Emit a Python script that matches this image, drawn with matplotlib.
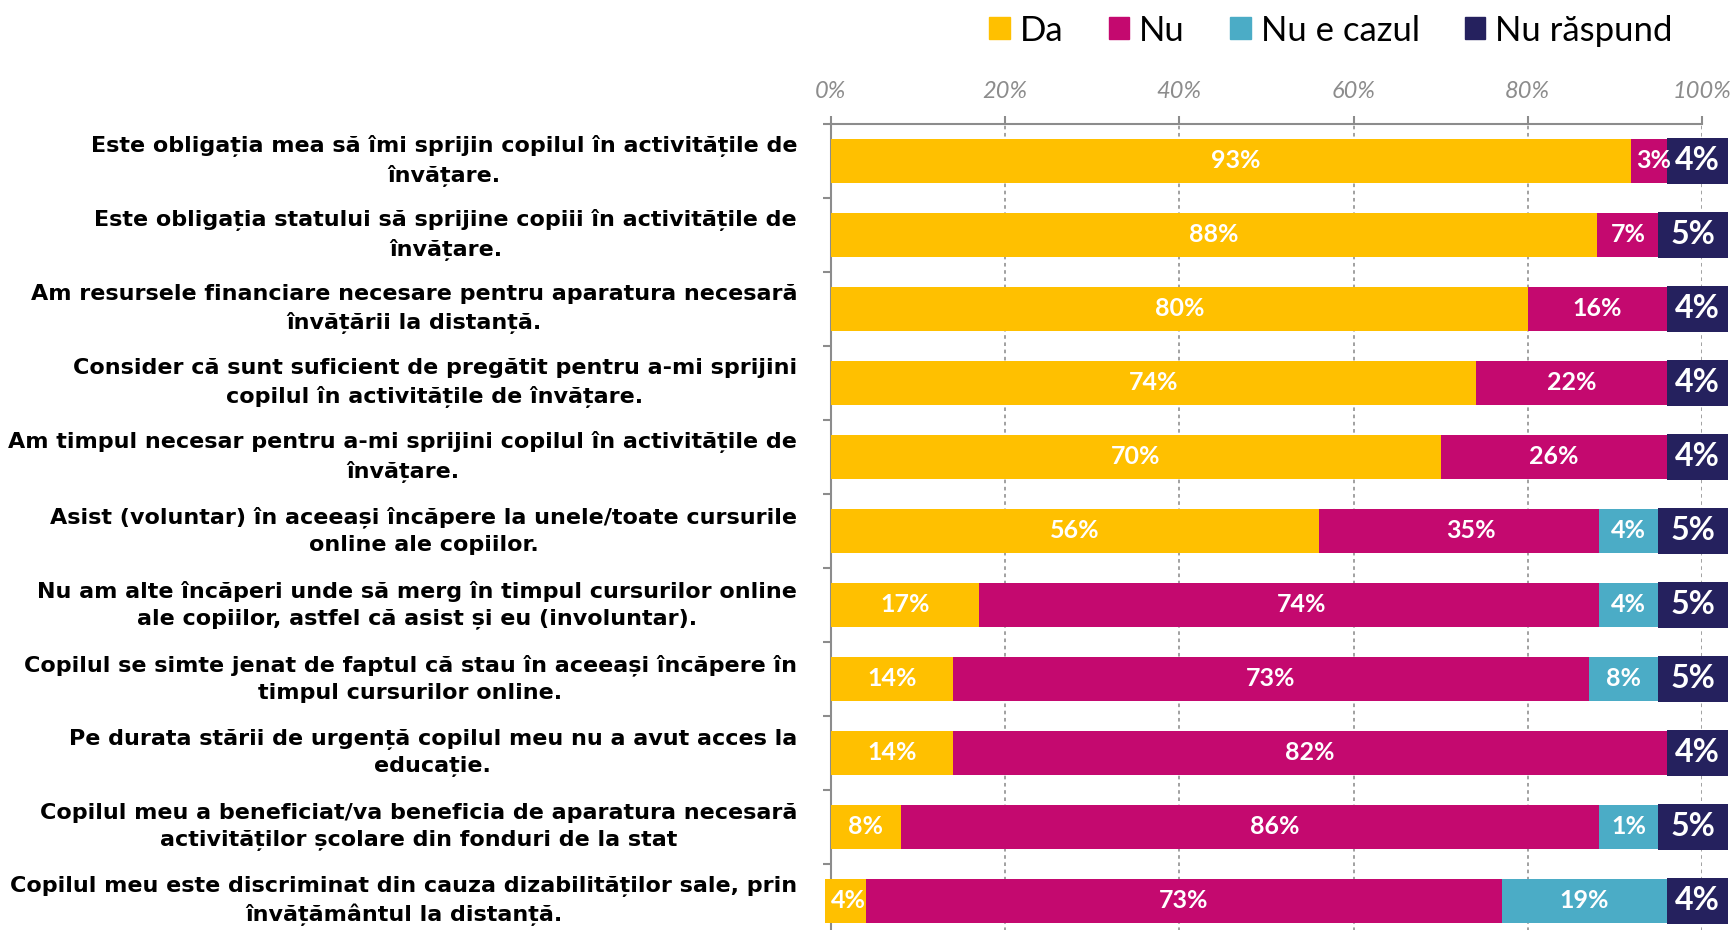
import matplotlib.pyplot as plt
import matplotlib.transforms as mtransforms
from matplotlib.patches import Patch
import numpy as np

plt.rcParams['font.family'] = ['Lato', 'Noto Sans', 'DejaVu Sans']

# survey answers (%), one value per statement
statements = [
    "Este obligația mea să îmi sprijin copilul în activitățile de\nînvățare.",
    "Este obligația statului să sprijine copiii în activitățile de\nînvățare.",
    "Am resursele financiare necesare pentru aparatura necesară\nînvățării la distanță.",
    "Consider că sunt suficient de pregătit pentru a-mi sprijini\ncopilul în activitățile de învățare.",
    "Am timpul necesar pentru a-mi sprijini copilul în activitățile de\nînvățare.",
    "Asist (voluntar) în aceeași încăpere la unele/toate cursurile\nonline ale copiilor.",
    "Nu am alte încăperi unde să merg în timpul cursurilor online\nale copiilor, astfel că asist și eu (involuntar).",
    "Copilul se simte jenat de faptul că stau în aceeași încăpere în\ntimpul cursurilor online.",
    "Pe durata stării de urgență copilul meu nu a avut acces la\neducație.",
    "Copilul meu a beneficiat/va beneficia de aparatura necesară\nactivităților școlare din fonduri de la stat",
    "Copilul meu este discriminat din cauza dizabilităților sale, prin\nînvățământul la distanță.",
]
da = [93, 88, 80, 74, 70, 56, 17, 14, 14, 8, 4]
nu = [3, 7, 16, 22, 26, 35, 74, 73, 82, 86, 73]
nu_caz = [0, 0, 0, 0, 0, 4, 4, 8, 0, 1, 19]
nu_rasp = [4, 5, 4, 4, 4, 5, 5, 5, 4, 5, 4]
series_names = ["Da", "Nu", "Nu e cazul", "Nu răspund"]

colors = ["#FFC000", "#C4096F", "#4BACC6", "#25215E"]
MIN_W = 5.4      # small segments are widened so the label fits
CAZ_MIN_W = 6.8
NR_EXTRA = 3.0   # the "Nu răspund" boxes stick out past 100%

da = np.array(da, float)
nu = np.array(nu, float)
nu_caz = np.array(nu_caz, float)
nu_rasp = np.array(nu_rasp, float)
y = np.arange(len(statements))

fig = plt.figure(figsize=(17.33, 9.3), dpi=100)
ax = fig.add_axes([0.4795, -0.0086, 0.5026, 0.8753])

h = 0.587
def seg(left, width, minw, color, vals, size, hh=h):
    w = np.maximum(width, minw)
    l = left + (width - w) / 2
    ax.barh(y, w / 100, left=l / 100, height=hh, color=color, clip_on=False, zorder=3)
    for yi, li, wi, v in zip(y, l, w, vals):
        if v > 0:
            ax.text((li + wi / 2) / 100, yi, f"{v:.0f}%", ha='center', va='center',
                    color='white', fontsize=size, fontweight='bold', zorder=5, clip_on=False)

seg(np.zeros_like(da), da, MIN_W, colors[0], da, 18)
seg(da, nu, MIN_W, colors[1], nu, 18)
# Nu e cazul: anchored to its right end
end_caz = da + nu + nu_caz
w_caz = np.where(nu_caz > 0, np.maximum(nu_caz, CAZ_MIN_W), 0)
m = nu_caz > 0
ax.barh(y[m], w_caz[m] / 100, left=(end_caz[m] - w_caz[m]) / 100, height=h,
        color=colors[2], zorder=3)
for yi, e, w, v in zip(y[m], end_caz[m], w_caz[m], nu_caz[m]):
    ax.text((e - w / 2) / 100, yi, f"{v:.0f}%", ha='center', va='center',
            color='white', fontsize=18, fontweight='bold', zorder=5)
# Nu raspund
start_nr = 100 - nu_rasp
w_nr = nu_rasp + NR_EXTRA
ax.barh(y, w_nr / 100, left=start_nr / 100, height=0.62, color=colors[3], clip_on=False, zorder=4)
for yi, s, w, v in zip(y, start_nr, w_nr, nu_rasp):
    ax.text((s + w / 2) / 100, yi, f"{v:.0f}%", ha='center', va='center',
            color='white', fontsize=23, fontweight='bold', zorder=5, clip_on=False)

ax.set_xlim(0, 1)
ax.set_ylim(len(statements) - 0.5, -0.5)

# axes look
gray = "#8C8C8C"
for s in ['right', 'bottom']:
    ax.spines[s].set_visible(False)
for s in ['top', 'left']:
    ax.spines[s].set_color(gray)
    ax.spines[s].set_linewidth(1.5)
ax.xaxis.tick_top()
ax.set_xticks(np.arange(0, 1.01, 0.2))
ax.set_xticklabels([f"{int(t*100)}%" for t in np.arange(0, 1.01, 0.2)],
                   fontsize=17, style='italic', color="#8C8C8C")
ax.tick_params(axis='x', direction='out', length=6, width=1.5, color=gray, pad=10)
ax.grid(axis='x', linestyle=(0, (2, 2)), color="#9A9A9A", linewidth=1.3, zorder=0)

ax.set_yticks(y)
ax.set_yticklabels([])
ax.tick_params(axis='y', which='major', direction='in', length=4, width=1.5, color=gray)
ax.set_yticks(np.arange(len(statements) + 1) - 0.5, minor=True)
ax.tick_params(axis='y', which='minor', direction='out', length=6, width=1.5, color=gray)

trans = mtransforms.blended_transform_factory(ax.transAxes, ax.transData)
for yi, lab in zip(y, statements):
    ax.text(-0.039, yi, lab, transform=trans, ha='right', va='center', multialignment='center',
            fontsize=16, fontweight='bold', color='black', linespacing=1.42,
            family=['DejaVu Sans'])

handles = [Patch(color=c) for c in colors]
fig.legend(handles, series_names, loc='center', bbox_to_anchor=(0.768, 0.967), ncol=4,
           frameon=False, fontsize=25, handlelength=0.6, handleheight=0.6,
           handletextpad=0.28, columnspacing=1.3)

fig.savefig("out.png", dpi=100)
